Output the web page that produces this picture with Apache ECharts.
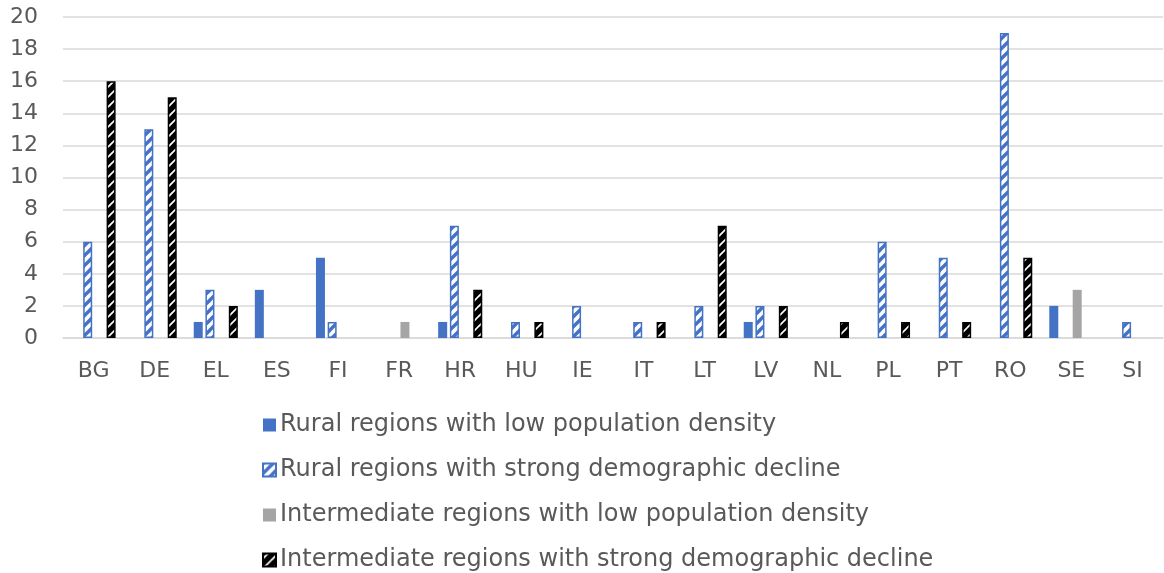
<!DOCTYPE html>
<html><head><meta charset="utf-8">
<script src="https://cdn.jsdelivr.net/npm/echarts@6/dist/echarts.min.js"></script>
<style>html,body{margin:0;padding:0;background:#fff}#c{width:1164px;height:573px}</style>
</head><body><div id="c"></div>
<script>
const categories = ['BG','DE','EL','ES','FI','FR','HR','HU','IE','IT','LT','LV','NL','PL','PT','RO','SE','SI'];
const seriesNames = ['Rural regions with low population density','Rural regions with strong demographic decline','Intermediate regions with low population density','Intermediate regions with strong demographic decline'];
const ruralLow      = [0,0,1,3,5,0,1,0,0,0,0,1,0,0,0,0,2,0];
const ruralDecline  = [6,13,3,0,1,0,7,1,2,1,2,2,0,6,5,19,0,1];
const interLow      = [0,0,0,0,0,1,0,0,0,0,0,0,0,0,0,0,3,0];
const interDecline  = [16,15,2,0,0,0,3,1,0,1,7,2,1,1,1,5,0,0];
const yTicks = {min:0, max:20, interval:2};

function hatch(color, lw){
  const s = 10;
  const c = document.createElement('canvas');
  c.width = s; c.height = s;
  const g = c.getContext('2d');
  g.fillStyle = '#fff'; g.fillRect(0,0,s,s);
  g.strokeStyle = color; g.lineWidth = lw; g.lineCap='square';
  for (let k=-1;k<=1;k++){
    g.beginPath();
    g.moveTo(k*s, s); g.lineTo(k*s + s, 0);
    g.stroke();
  }
  return {image:c, repeat:'repeat'};
}
const blueHatch = hatch('#4472C4', 3.4);
const blackHatch = hatch('#000000', 5.4);

const font = "'DejaVu Sans', Verdana, sans-serif";
const chart = echarts.init(document.getElementById('c'), null, {renderer:'canvas'});
function ser(name, data, itemStyle){
  return {name, type:'bar', data:data.map(v => v === 0 ? null : v), barWidth:9, barGap:'30%', itemStyle, emphasis:{disabled:true}};
}
chart.setOption({
  animation:false,
  grid:{left:63, right:1, top:17, bottom:235, containLabel:false},
  legend:{
    orient:'vertical', left:257, top:408, width:900, height:200, icon:'rect', itemWidth:13, itemHeight:13, itemGap:21,
    textStyle:{fontFamily:font, fontSize:24, color:'#595959', padding:[0,0,0,-1]},
    data:seriesNames
  },
  xAxis:{
    type:'category', data:categories,
    axisLine:{lineStyle:{color:'#D9D9D9', width:1.5}}, axisTick:{show:false},
    axisLabel:{fontFamily:font, fontSize:22, color:'#595959', margin:22}
  },
  yAxis:{
    type:'value', min:yTicks.min, max:yTicks.max, interval:yTicks.interval,
    axisLine:{show:false}, axisTick:{show:false},
    splitLine:{lineStyle:{color:'#D9D9D9', width:1.5}},
    axisLabel:{fontFamily:font, fontSize:22, color:'#595959', margin:25}
  },
  series:[
    ser(seriesNames[0], ruralLow, {color:'#4472C4'}),
    ser(seriesNames[1], ruralDecline, {color:blueHatch, borderColor:'#4472C4', borderWidth:1.5}),
    ser(seriesNames[2], interLow, {color:'#A5A5A5'}),
    ser(seriesNames[3], interDecline, {color:blackHatch, borderColor:'#000', borderWidth:1.5})
  ]
});
</script></body></html>
